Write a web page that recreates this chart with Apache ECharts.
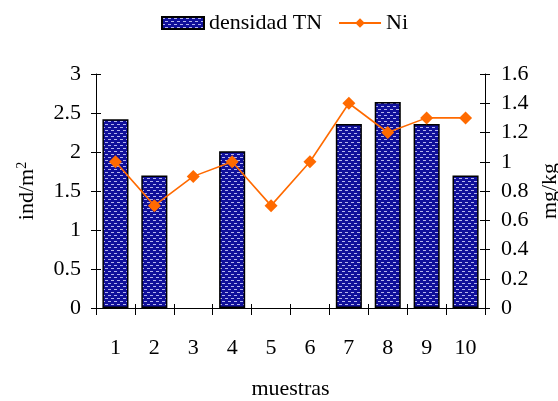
<!DOCTYPE html>
<html>
<head>
<meta charset="utf-8">
<script src="https://cdn.jsdelivr.net/npm/echarts@6/dist/echarts.min.js"></script>
<style>
  html, body { margin: 0; padding: 0; background: #fff; }
  #chart { width: 558px; height: 401px; }
</style>
</head>
<body>
<div id="chart"></div>
<script>
// Samples and measured values
const muestras = ['1', '2', '3', '4', '5', '6', '7', '8', '9', '10'];
const densidadTN = [2.42, 1.7, null, 2.01, null, null, 2.36, 2.64, 2.36, 1.7];
const niValues = [1.0, 0.7, 0.9, 1.0, 0.7, 1.0, 1.4, 1.2, 1.3, 1.3];
const leftTicks = { min: 0, max: 3, interval: 0.5 };
const rightTicks = { min: 0, max: 1.6, interval: 0.2 };

// Dotted navy fill for the bars
function makeDotPattern() {
  const c = document.createElement('canvas');
  c.width = 6; c.height = 6;
  const g = c.getContext('2d');
  g.fillStyle = '#10109a';
  g.fillRect(0, 0, 6, 6);
  g.fillStyle = '#b4b4ee';
  g.fillRect(0, 1, 3, 1);
  g.fillRect(3, 4, 3, 1);
  return c;
}
const barFill = { image: makeDotPattern(), repeat: 'repeat' };

const font = 'Liberation Serif';
const txt = { fontFamily: font, fontSize: 22, color: '#000' };

const chart = echarts.init(document.getElementById('chart'), null, { renderer: 'canvas' });

function yAxisBase(pos, t, extra) {
  return Object.assign({
    type: 'value', position: pos, min: t.min, max: t.max, interval: t.interval,
    splitLine: { show: false },
    axisLine: { show: true, lineStyle: { color: '#000', width: 1 } },
    axisTick: { show: true, length: 5, lineStyle: { color: '#000' } }
  }, extra);
}

chart.setOption({
  animation: false,
  backgroundColor: '#fff',
  textStyle: { fontFamily: font },
  legend: {
    top: 7, left: 156,
    itemGap: 16, itemWidth: 42, itemHeight: 12,
    textStyle: { fontFamily: font, fontSize: 22, color: '#000' },
    data: [
      { name: 'densidad TN', icon: 'rect' },
      { name: 'Ni' }
    ]
  },
  grid: { left: 96, right: 73, top: 74, bottom: 93, containLabel: false, outerBoundsMode: 'none' },
  xAxis: [
    {
      type: 'category', data: muestras, position: 'bottom',
      axisLine: { show: true, lineStyle: { color: '#000', width: 1 } },
      axisTick: { show: true, length: 7, lineStyle: { color: '#000' } },
      axisLabel: Object.assign({ margin: 29 }, txt),
      name: 'muestras', nameLocation: 'middle', nameGap: 70,
      nameTextStyle: txt
    },
    {
      type: 'category', data: muestras, position: 'bottom', gridIndex: 0,
      axisLine: { show: false },
      axisTick: { show: true, inside: true, length: 4, lineStyle: { color: '#000' } },
      axisLabel: { show: false }
    }
  ],
  yAxis: [
    yAxisBase('left', leftTicks, {
      axisLabel: Object.assign({ margin: 15, formatter: v => String(v) }, txt),
      name: 'ind/m{sup|2}', nameLocation: 'middle', nameGap: 57, nameRotate: 90,
      nameTextStyle: Object.assign({}, txt, {
        rich: { sup: { fontFamily: font, fontSize: 14, color: '#000', verticalAlign: 'top', padding: [0, 0, 10, 0] } }
      })
    }),
    yAxisBase('right', rightTicks, {
      axisLabel: Object.assign({ margin: 16, formatter: v => String(Math.round(v * 10) / 10) }, txt),
      name: 'mg/kg', nameLocation: 'middle', nameGap: 47, nameRotate: 90,
      nameTextStyle: txt
    }),
    yAxisBase('left', leftTicks, {
      axisLine: { show: false },
      axisTick: { show: true, inside: true, length: 5, lineStyle: { color: '#000' } },
      axisLabel: { show: false }
    }),
    yAxisBase('right', rightTicks, {
      axisLine: { show: false },
      axisTick: { show: true, inside: true, length: 5, lineStyle: { color: '#000' } },
      axisLabel: { show: false }
    })
  ],
  series: [
    {
      name: 'densidad TN', type: 'bar', xAxisIndex: 0, yAxisIndex: 0,
      data: densidadTN, barWidth: '67%',
      itemStyle: { color: barFill, borderColor: '#000', borderWidth: 1.5 }
    },
    {
      name: 'Ni', type: 'line', xAxisIndex: 0, yAxisIndex: 1,
      data: niValues, symbol: 'diamond', symbolSize: 13,
      lineStyle: { color: '#ff6a00', width: 1.6 },
      itemStyle: { color: '#ff6a00' },
      z: 5
    }
  ]
});
</script>
</body>
</html>
